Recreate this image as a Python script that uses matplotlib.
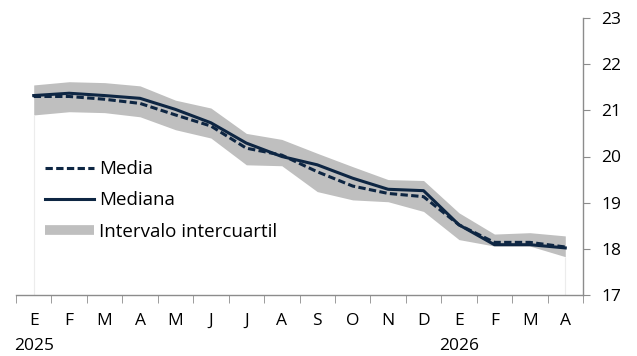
import matplotlib.pyplot as plt
from matplotlib.lines import Line2D

plt.rcParams['font.family'] = ['Open Sans', 'DejaVu Sans']

# Data
months = ["E", "F", "M", "A", "M", "J", "J", "A", "S", "O", "N", "D",
          "E", "F", "M", "A"]
years = {0: "2025", 12: "2026"}
mediana = [21.32, 21.37, 21.32, 21.26, 21.02, 20.73, 20.29, 20.00, 19.82,
           19.53, 19.29, 19.26, 18.52, 18.09, 18.09, 18.02]
media = [21.30, 21.30, 21.24, 21.15, 20.90, 20.66, 20.18, 20.03, 19.67,
         19.36, 19.20, 19.13, 18.52, 18.14, 18.14, 18.04]
q_low = [20.90, 20.97, 20.95, 20.86, 20.58, 20.40, 19.82, 19.80, 19.24,
         19.06, 19.02, 18.81, 18.20, 18.06, 18.06, 17.83]
q_high = [21.55, 21.62, 21.60, 21.53, 21.22, 21.05, 20.50, 20.37, 20.07,
          19.78, 19.50, 19.48, 18.78, 18.32, 18.35, 18.28]

navy = "#0e2643"
grey = "#bfbfbf"
x = list(range(len(months)))

fig = plt.figure(figsize=(6.37, 3.56), dpi=100)
ax = fig.add_axes([16/637, 1 - 295/356, (583 - 16)/637, (295 - 18)/356])

# Band and faint edges
ax.fill_between(x, q_low, q_high, color=grey, linewidth=0)
ax.vlines([x[0], x[-1]], 17, [q_low[0], q_low[-1]], color="#ececec", lw=0.8)

ax.plot(x, media, color=navy, lw=2.2, linestyle=(0, (2.4, 1.1)))
ax.plot(x, mediana, color=navy, lw=2.2)

ax.set_xlim(-0.5, len(months) - 0.5)
ax.set_ylim(17, 23)

# Axes styling
for s in ["top", "left"]:
    ax.spines[s].set_visible(False)
for s in ["right", "bottom"]:
    ax.spines[s].set_color("#8c8c8c")
    ax.spines[s].set_linewidth(1)

ax.yaxis.tick_right()
ax.set_yticks(range(17, 24))
ax.tick_params(axis="y", direction="out", length=5, color="#8c8c8c",
               labelsize=12.5, pad=8)

ax.set_xticks(x)
ax.set_xticklabels(months)
ax.set_xticks([i - 0.5 for i in range(len(months) + 1)], minor=True)
ax.tick_params(axis="x", which="major", length=0, labelsize=12.5, pad=13)
ax.tick_params(axis="x", which="minor", direction="out", length=6,
               color="#8c8c8c")

for i, yr in years.items():
    ax.text(i, -0.183, yr, transform=ax.get_xaxis_transform(),
            ha="center", va="center", fontsize=12.5)

handles = [
    Line2D([], [], color=navy, lw=2.2, linestyle=(0, (2.4, 1.1))),
    Line2D([], [], color=navy, lw=2.2),
    Line2D([], [], color=grey, lw=7, solid_capstyle="butt"),
]
labels = ["Media", "Mediana", "Intervalo intercuartil"]
ax.legend(handles, labels, loc="upper left", bbox_to_anchor=(0.035, 0.52),
          frameon=False, fontsize=13.5, handlelength=2.6, handletextpad=0.25,
          labelspacing=0.7, borderpad=0)

plt.savefig("out.png", dpi=100)
